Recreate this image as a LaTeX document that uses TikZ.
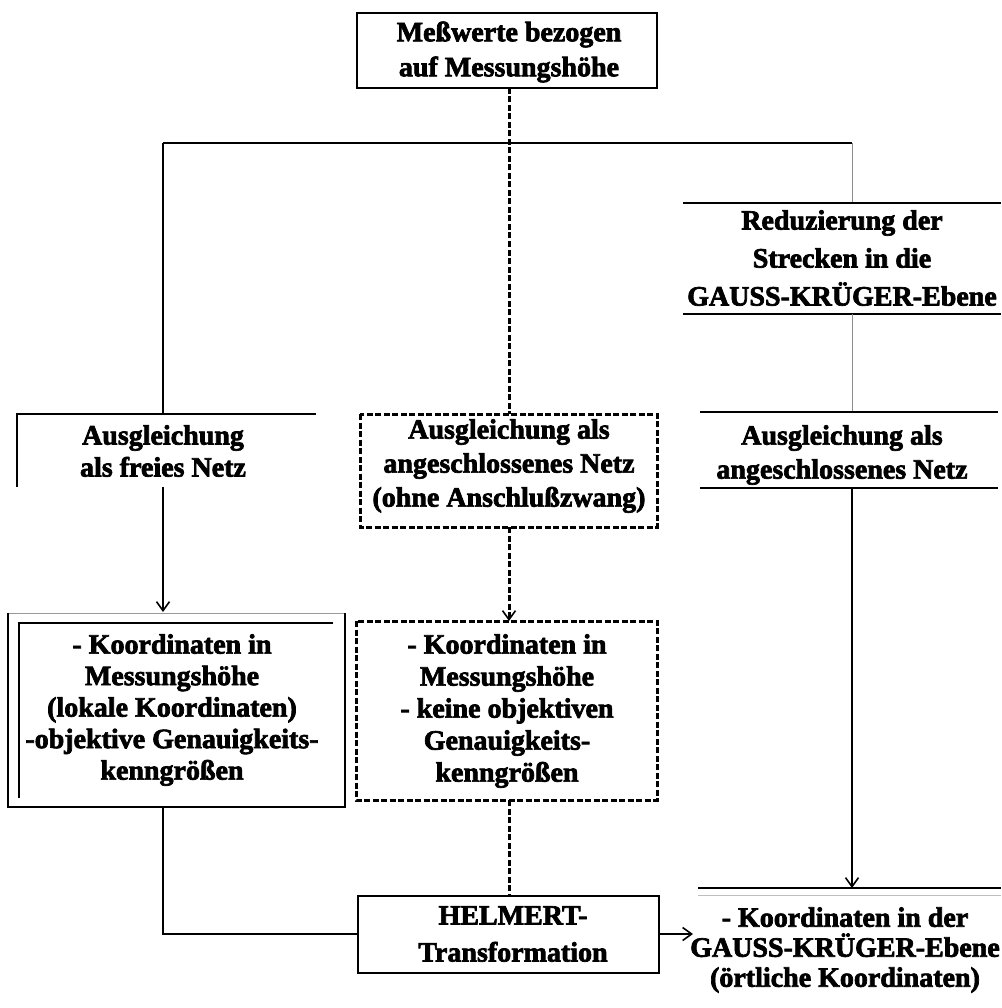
\documentclass[tikz,border=0pt]{standalone}
\usepackage{fontspec}
\newfontfamily\heavy[BoldFeatures={FakeBold=2.5}]{Liberation Serif}
\usetikzlibrary{arrows.meta}
\tikzset{
  txt/.style={inner sep=0pt, align=center, font=\heavy\bfseries\fontsize{28}{#1}\selectfont},
  solid line/.style={line width=2.2pt, black},
  thin gray/.style={line width=0.8pt, black!45},
  dash line/.style={line width=3pt, black, dash pattern=on 6pt off 2.5pt},
  arr/.style={line width=1.6pt, -{Straight Barb[length=9pt,width=13pt,line width=1.6pt]}},
  darr/.style={dash line, -{Straight Barb[length=9pt,width=13pt,line width=1.6pt]}}
}
\begin{document}
\begin{tikzpicture}[x=1pt,y=-1pt]
\useasboundingbox (0,0) rectangle (1001,1008);
% text nodes
\node[txt=35] (top) at (509,52) {Meßwerte bezogen\\auf Messungshöhe};
\node[txt=32] (frei) at (163,451) {Ausgleichung\\als freies Netz};
\node[txt=34] (mid) at (509,466) {Ausgleichung als\\angeschlossenes Netz\\(ohne Anschlußzwang)};
\node[txt=38] (redu) at (842,258) {Reduzierung der\\Strecken in die\\GAUSS-KRÜGER-Ebene};
\node[txt=34] (raus) at (842,455) {Ausgleichung als\\angeschlossenes Netz};
\node[txt=31.5] (lk) at (172,710) {- Koordinaten in\\Messungshöhe\\(lokale Koordinaten)\\-objektive Genauigkeits-\\kenngrößen};
\node[txt=32] (mk) at (507,711) {- Koordinaten in\\Messungshöhe\\- keine objektiven\\Genauigkeits-\\kenngrößen};
\node[txt=37] (helm) at (513,934) {HELMERT-\\Transformation};
\node[txt=30] (gk) at (845,950) {- Koordinaten in der\\GAUSS-KRÜGER-Ebene\\(örtliche Koordinaten)};
% coordinates
\coordinate (topB) at (509,88);
\coordinate (split) at (509,143);
\coordinate (hl) at (163,143);
\coordinate (hr) at (852,143);
\coordinate (freiT) at (163,414);
\coordinate (freiB) at (163,487);
\coordinate (lkT) at (163,612);
\coordinate (lkB) at (163,807);
\coordinate (corner) at (163,934);
\coordinate (helmL) at (358,934);
\coordinate (helmR) at (659,934);
\coordinate (gkL) at (693,934);
\coordinate (reduT) at (852,203);
\coordinate (reduB) at (852,314);
\coordinate (rausT) at (852,412);
\coordinate (rausB) at (852,488);
\coordinate (gkT) at (852,888);
\coordinate (midT) at (509,414);
\coordinate (midB) at (509,527);
\coordinate (mkT) at (509,621);
\coordinate (mkB) at (509,800);
\coordinate (helmT) at (509,896);
% top box
\draw[solid line] (357,13) rectangle (657,88);
% top split
\draw[dash line] (topB) -- (midT);
\draw[solid line] (hl) -- (hr);
\draw[solid line] (hl) -- (freiT);
% left open box
\draw[solid line] (316,414) -- (17,414) -- (17,487);
\draw[arr] (freiB) -- (lkT);
% left coordinate box
\draw[line width=0.8pt, black!40] (8,613) -- (345,613);
\draw[solid line] (8,613) -- (8,807) -- (345,807) -- (345,613);
\draw[solid line] (333,623) -- (19,623) -- (19,798);
\draw[solid line] (lkB) -- (corner) -- (helmL);
% middle column
\draw[dash line] (360,414) rectangle (657,527);
\draw[darr] (midB) -- (mkT);
\draw[dash line] (356,621) rectangle (657,800);
\draw[dash line] (mkB) -- (helmT);
% helmert box
\draw[solid line] (358,896) rectangle (659,973);
\draw[arr] (helmR) -- (gkL);
% right column
\draw[thin gray] (hr) -- (reduT);
\draw[solid line] (683,203) -- (1001,203);
\draw[solid line] (683,314) -- (1001,314);
\draw[thin gray] (reduB) -- (rausT);
\draw[solid line] (700,412) -- (998,412);
\draw[solid line] (700,488) -- (998,488);
\draw[arr] (rausB) -- (gkT);
\draw[solid line] (698,888) -- (1001,888);
\draw[line width=0.8pt, black!25] (698,895) -- (1001,895);
\end{tikzpicture}
\end{document}
